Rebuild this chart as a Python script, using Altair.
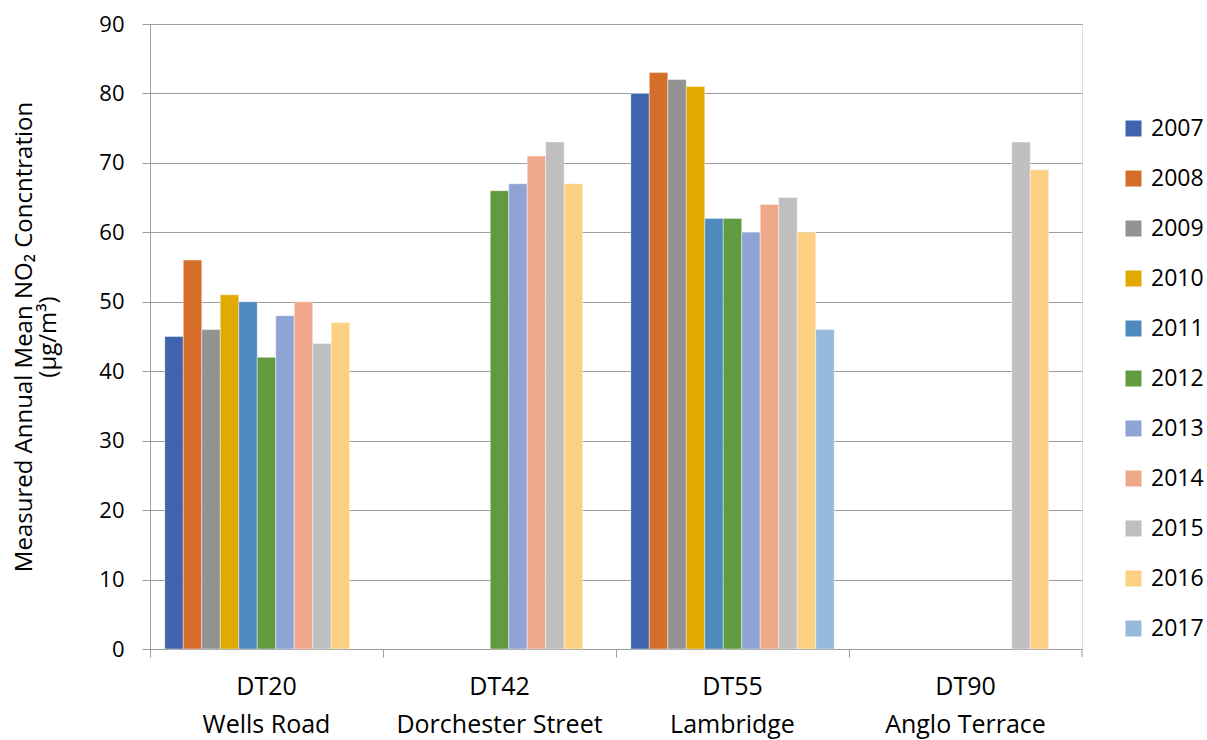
import altair as alt
import pandas as pd

# Monitoring sites (code | street name) and survey years
sites = ["DT20|Wells Road", "DT42|Dorchester Street", "DT55|Lambridge", "DT90|Anglo Terrace"]
years = ["2007", "2008", "2009", "2010", "2011", "2012", "2013", "2014", "2015", "2016", "2017"]

# Annual mean NO2 (µg/m³) per site, one entry per year; None = not measured
dt20 = [45, 56, 46, 51, 50, 42, 48, 50, 44, 47, None]
dt42 = [None, None, None, None, None, 66, 67, 71, 73, 67, None]
dt55 = [80, 83, 82, 81, 62, 62, 60, 64, 65, 60, 46]
dt90 = [None, None, None, None, None, None, None, None, 73, 69, None]

year_colors = ["#3F64AD", "#D46E2A", "#929292", "#E2AA00", "#4E8ABE", "#629A40",
               "#8FA3D4", "#EFA88A", "#BFBFBF", "#FED083", "#97B8DF"]

rows = []
for site, series in zip(sites, [dt20, dt42, dt55, dt90]):
    for year, v in zip(years, series):
        if v is not None:
            rows.append({"site": site, "year": year, "value": v})
df = pd.DataFrame(rows)

W, H = 932, 625
GRAY = "#9C9C9C"
FONT = "Open Sans"

bars = alt.Chart(df).mark_bar(stroke="white", strokeWidth=0.6, strokeOpacity=0.7).encode(
    x=alt.X(
        "site:N",
        sort=sites,
        scale=alt.Scale(paddingInner=0, paddingOuter=0),
        axis=alt.Axis(
            title=None,
            labelExpr="split(datum.label, '|')",
            labelAngle=0,
            labelBaseline="top",
            labelAlign="center",
            labelFontSize=25,
            labelLineHeight=38,
            labelPadding=17,
            labelLimit=400,
            labelColor="#000000",
            labelFont=FONT,
            bandPosition=0,
            tickColor=GRAY,
            tickSize=8,
            domainColor=GRAY,
        ),
    ),
    xOffset=alt.XOffset("year:N", sort=years,
                        scale=alt.Scale(domain=years, paddingInner=0, paddingOuter=0.8)),
    y=alt.Y(
        "value:Q",
        scale=alt.Scale(domain=[0, 90], nice=False),
        axis=alt.Axis(
            title=["Measured Annual Mean NO₂ Concntration", "(µg/m³)"],
            titleFontSize=24,
            titleFont=FONT,
            titleFontWeight="normal",
            titleColor="#000000",
            titleLineHeight=24,
            titlePadding=38,
            values=list(range(0, 91, 10)),
            labelFontSize=22,
            labelFont=FONT,
            labelColor="#000000",
            labelPadding=18,
            tickColor=GRAY,
            tickSize=8,
            domainColor=GRAY,
            gridColor=GRAY,
            gridWidth=1,
        ),
    ),
    color=alt.Color(
        "year:N",
        sort=years,
        scale=alt.Scale(domain=years, range=year_colors),
        legend=alt.Legend(
            title=None,
            orient="none",
            legendX=972,
            legendY=93,
            symbolType="square",
            symbolSize=256,
            symbolStrokeWidth=0,
            labelFontSize=23,
            labelFont=FONT,
            labelColor="#000000",
            rowPadding=26,
            labelOffset=6,
        ),
    ),
)

# closing tick at the right end of the category axis
end_tick = alt.Chart(alt.Data(values=[{}])).mark_rule(color=GRAY).encode(
    x=alt.value(W), y=alt.value(H), y2=alt.value(H + 8)
)

chart = alt.layer(bars, end_tick).properties(
    width=W,
    height=H,
    autosize=alt.AutoSizeParams(type="none"),
    padding={"left": 150, "top": 24, "right": 125, "bottom": 91},
).configure_view(stroke=None).configure(background="white")

chart.save("out.html", embed_options={"renderer": "svg", "actions": False})
